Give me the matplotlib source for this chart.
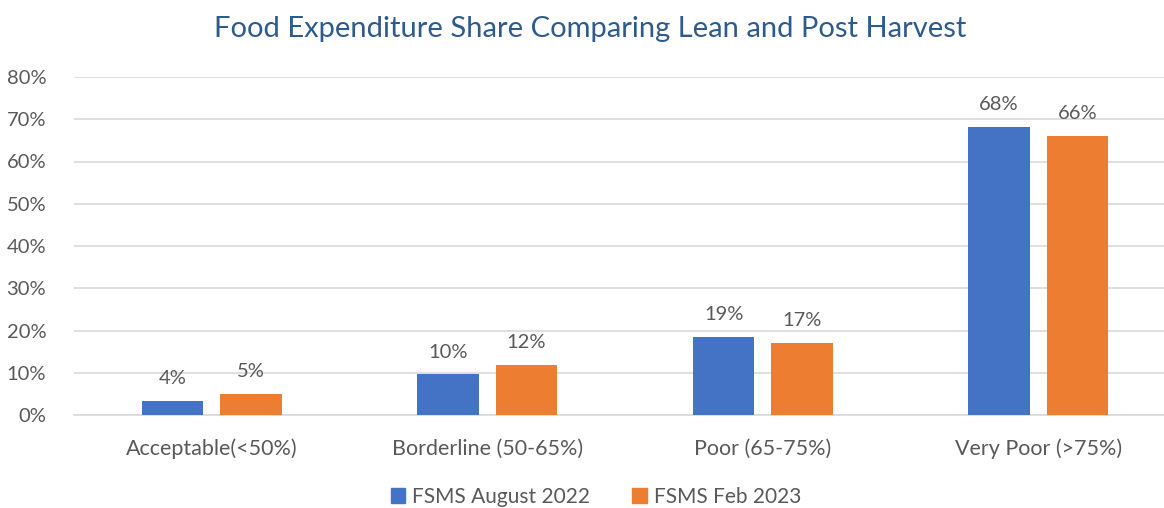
import matplotlib
matplotlib.use("Agg")
import matplotlib.pyplot as plt
import numpy as np
from matplotlib.patches import Patch

categories = ["Acceptable(<50%)", "Borderline (50-65%)", "Poor (65-75%)", "Very Poor (>75%)"]
series_names = ["FSMS August 2022", "FSMS Feb 2023"]
aug_2022 = [0.034, 0.096, 0.185, 0.681]
feb_2023 = [0.050, 0.1195, 0.170, 0.660]
aug_labels = ["4%", "10%", "19%", "68%"]
feb_labels = ["5%", "12%", "17%", "66%"]
yticks = [0, 0.1, 0.2, 0.3, 0.4, 0.5, 0.6, 0.7, 0.8]
ytick_labels = ["0%", "10%", "20%", "30%", "40%", "50%", "60%", "70%", "80%"]
title = "Food Expenditure Share Comparing Lean and Post Harvest"

BLUE = "#4472C4"
ORANGE = "#ED7D31"
GREY = "#595959"
GRID = "#D9D9D9"
TITLE_C = "#2E5B8E"

plt.rcParams['font.family'] = ['Lato', 'DejaVu Sans']

W, H = 1164, 508
fig = plt.figure(figsize=(W / 100, H / 100), dpi=100)
ax = fig.add_axes([74 / W, (H - 415) / H, 1102 / W, 338 / H])

x = np.arange(len(categories))
bw = 0.224
off = 0.142
b1 = ax.bar(x - off, aug_2022, bw, color=BLUE, zorder=3)
b2 = ax.bar(x + off, feb_2023, bw, color=ORANGE, zorder=3)

for rects, labs in ((b1, aug_labels), (b2, feb_labels)):
    for r, lab in zip(rects, labs):
        ax.annotate(lab, (r.get_x() + r.get_width() / 2, r.get_height()),
                    xytext=(0, 10), textcoords="offset points",
                    ha="center", va="bottom", fontsize=14.5, color=GREY)

ax.set_xlim(-0.5, len(categories) - 0.5)
ax.set_ylim(0, 0.8)
ax.set_yticks(yticks)
ax.set_yticklabels(ytick_labels)
ax.set_xticks(x)
ax.set_xticklabels(categories)
ax.tick_params(axis="y", length=0, pad=20, labelsize=14.5, labelcolor=GREY)
ax.tick_params(axis="x", length=0, pad=17, labelsize=15.5, labelcolor=GREY)
ax.grid(axis="y", color=GRID, linewidth=1.2, zorder=0)
for s in ("top", "right", "left"):
    ax.spines[s].set_visible(False)
ax.spines["bottom"].set_color(GRID)
ax.spines["bottom"].set_linewidth(1.2)

fig.text(590 / W, 1 - 29 / H, title, ha="center", va="center", fontsize=21, color=TITLE_C)

handles = [Patch(color=BLUE), Patch(color=ORANGE)]
fig.legend(handles, series_names, loc="center", bbox_to_anchor=(596 / W, 1 - 497 / H),
           ncol=2, frameon=False, fontsize=15, labelcolor=GREY,
           handlelength=0.7, handleheight=0.7, handletextpad=0.35, columnspacing=2.0)

fig.savefig("out.png", dpi=100)
